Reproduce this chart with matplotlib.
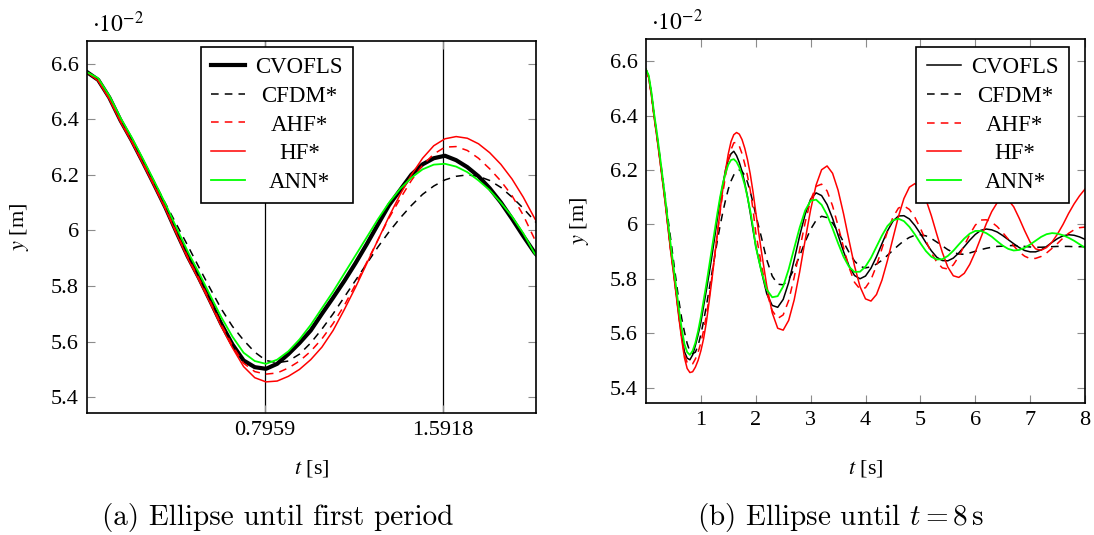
import matplotlib
matplotlib.use('Agg')
import matplotlib.pyplot as plt
import matplotlib.axes
from matplotlib.ticker import FuncFormatter

plt.rcParams['font.family'] = ['Liberation Serif', 'DejaVu Serif']
plt.rcParams['mathtext.fontset'] = 'stix'

# time samples [s]: 0.05 s steps up to 2 s, then 0.1 s steps
t = [0.00, 0.05, 0.10, 0.15, 0.20, 0.25, 0.30, 0.35, 0.40, 0.45,
     0.50, 0.55, 0.60, 0.65, 0.70, 0.75, 0.80, 0.85, 0.90, 0.95,
     1.00, 1.05, 1.10, 1.15, 1.20, 1.25, 1.30, 1.35, 1.40, 1.45,
     1.50, 1.55, 1.60, 1.65, 1.70, 1.75, 1.80, 1.85, 1.90, 1.95,
     2.0, 2.1, 2.2, 2.3, 2.4, 2.5, 2.6, 2.7, 2.8, 2.9,
     3.0, 3.1, 3.2, 3.3, 3.4, 3.5, 3.6, 3.7, 3.8, 3.9,
     4.0, 4.1, 4.2, 4.3, 4.4, 4.5, 4.6, 4.7, 4.8, 4.9,
     5.0, 5.1, 5.2, 5.3, 5.4, 5.5, 5.6, 5.7, 5.8, 5.9,
     6.0, 6.1, 6.2, 6.3, 6.4, 6.5, 6.6, 6.7, 6.8, 6.9,
     7.0, 7.1, 7.2, 7.3, 7.4, 7.5, 7.6, 7.7, 7.8, 7.9, 8.0]

# y [1e-2 m]
cvofls = [6.570, 6.542, 6.478, 6.396, 6.324, 6.246, 6.166, 6.084, 5.994, 5.907,
          5.830, 5.748, 5.664, 5.590, 5.532, 5.508, 5.502, 5.520, 5.555, 5.595,
          5.640, 5.700, 5.758, 5.818, 5.882, 5.950, 6.021, 6.091, 6.146, 6.201,
          6.238, 6.260, 6.269, 6.253, 6.228, 6.195, 6.152, 6.101, 6.042, 5.980,
          5.921, 5.830, 5.745, 5.702, 5.695, 5.724, 5.786, 5.869, 5.958, 6.037,
          6.093, 6.116, 6.106, 6.073, 6.022, 5.961, 5.900, 5.847, 5.812, 5.800,
          5.810, 5.839, 5.881, 5.929, 5.976, 6.012, 6.031, 6.032, 6.020, 5.996,
          5.966, 5.933, 5.903, 5.879, 5.867, 5.866, 5.876, 5.895, 5.918, 5.942,
          5.963, 5.978, 5.983, 5.980, 5.972, 5.959, 5.944, 5.929, 5.915, 5.904,
          5.899, 5.899, 5.906, 5.919, 5.934, 5.948, 5.958, 5.962, 5.960, 5.954, 5.945]

cfdm = [6.570, 6.542, 6.478, 6.398, 6.328, 6.254, 6.176, 6.098, 6.022, 5.946,
        5.868, 5.792, 5.718, 5.655, 5.605, 5.562, 5.532, 5.524, 5.530, 5.555,
        5.595, 5.645, 5.700, 5.760, 5.820, 5.880, 5.940, 5.995, 6.045, 6.090,
        6.130, 6.160, 6.182, 6.195, 6.200, 6.195, 6.180, 6.155, 6.120, 6.080,
        6.035, 5.955, 5.870, 5.810, 5.780, 5.778, 5.798, 5.836, 5.884, 5.936,
        5.982, 6.015, 6.030, 6.025, 6.005, 5.973, 5.935, 5.897, 5.865, 5.845,
        5.840, 5.844, 5.854, 5.868, 5.886, 5.905, 5.923, 5.940, 5.952, 5.960,
        5.962, 5.958, 5.948, 5.935, 5.921, 5.907, 5.897, 5.891, 5.890, 5.895,
        5.901, 5.907, 5.912, 5.916, 5.919, 5.920, 5.922, 5.922, 5.921, 5.919,
        5.917, 5.916, 5.916, 5.917, 5.918, 5.919, 5.919, 5.919, 5.918, 5.918, 5.918]

ahf = [6.570, 6.540, 6.476, 6.394, 6.322, 6.244, 6.164, 6.082, 5.992, 5.905,
       5.828, 5.746, 5.662, 5.586, 5.522, 5.492, 5.483, 5.487, 5.505, 5.530,
       5.565, 5.610, 5.665, 5.730, 5.805, 5.885, 5.965, 6.045, 6.115, 6.180,
       6.235, 6.275, 6.300, 6.302, 6.288, 6.260, 6.222, 6.178, 6.125, 6.055,
       5.970, 5.855, 5.750, 5.683, 5.654, 5.667, 5.720, 5.805, 5.907, 6.007,
       6.089, 6.140, 6.148, 6.123, 6.068, 5.995, 5.915, 5.842, 5.787, 5.762,
       5.767, 5.797, 5.848, 5.911, 5.974, 6.026, 6.060, 6.068, 6.055, 6.026,
       5.986, 5.940, 5.896, 5.861, 5.840, 5.836, 5.851, 5.882, 5.922, 5.963,
       5.997, 6.016, 6.017, 6.008, 5.992, 5.970, 5.946, 5.921, 5.899, 5.883,
       5.874, 5.875, 5.882, 5.895, 5.912, 5.930, 5.950, 5.967, 5.980, 5.988, 5.990]

hf = [6.570, 6.538, 6.472, 6.390, 6.318, 6.240, 6.160, 6.078, 5.988, 5.900,
      5.822, 5.740, 5.655, 5.578, 5.510, 5.470, 5.455, 5.458, 5.475, 5.500,
      5.535, 5.580, 5.640, 5.715, 5.795, 5.880, 5.965, 6.050, 6.130, 6.200,
      6.260, 6.305, 6.330, 6.338, 6.332, 6.312, 6.280, 6.238, 6.185, 6.120,
      6.045, 5.905, 5.775, 5.675, 5.618, 5.611, 5.647, 5.722, 5.825, 5.942,
      6.054, 6.145, 6.201, 6.215, 6.188, 6.126, 6.039, 5.941, 5.847, 5.771,
      5.726, 5.718, 5.742, 5.795, 5.867, 5.949, 6.029, 6.095, 6.137, 6.150,
      6.133, 6.092, 6.032, 5.963, 5.897, 5.843, 5.811, 5.805, 5.820, 5.853,
      5.898, 5.950, 6.002, 6.047, 6.080, 6.095, 6.090, 6.065, 6.023, 5.977,
      5.935, 5.910, 5.905, 5.915, 5.935, 5.965, 6.000, 6.040, 6.075, 6.105, 6.130]

ann = [6.570, 6.548, 6.485, 6.405, 6.335, 6.258, 6.178, 6.097, 6.010, 5.925,
       5.848, 5.768, 5.688, 5.618, 5.560, 5.530, 5.520, 5.535, 5.565, 5.608,
       5.660, 5.720, 5.780, 5.845, 5.910, 5.975, 6.040, 6.100, 6.150, 6.190,
       6.220, 6.237, 6.240, 6.230, 6.210, 6.180, 6.145, 6.100, 6.050, 5.990,
       5.918, 5.830, 5.760, 5.732, 5.736, 5.772, 5.835, 5.912, 5.988, 6.051,
       6.087, 6.091, 6.072, 6.035, 5.985, 5.931, 5.881, 5.844, 5.825, 5.826,
       5.845, 5.877, 5.918, 5.959, 5.994, 6.015, 6.021, 6.012, 5.991, 5.963,
       5.931, 5.902, 5.881, 5.871, 5.872, 5.884, 5.903, 5.926, 5.948, 5.966,
       5.976, 5.976, 5.968, 5.955, 5.938, 5.922, 5.910, 5.904, 5.906, 5.914,
       5.926, 5.940, 5.954, 5.964, 5.968, 5.966, 5.960, 5.951, 5.940, 5.927, 5.914]

labels = ['CVOFLS', 'CFDM*', 'AHF*', 'HF*', 'ANN*']
y_ticks = [5.4, 5.6, 5.8, 6.0, 6.2, 6.4, 6.6]
period_ticks = [0.7959, 1.5918]
period_tick_labels = ['0.7959', '1.5918']
right_x_ticks = [1, 2, 3, 4, 5, 6, 7, 8]

DASH = (0, (5, 4))
FS = 16

fig = plt.figure(figsize=(10.94, 5.35), dpi=100)


def style_axis(axis: matplotlib.axes.Axes):
    axis.set_ylim(5.343, 6.682)
    axis.set_yticks(y_ticks)
    axis.yaxis.set_major_formatter(FuncFormatter(lambda v, p: f'{v:g}'))
    axis.tick_params(direction='in', length=6, width=0.8, color='0.55',
                     top=True, right=True, labelsize=FS, pad=6)
    for sp in axis.spines.values():
        sp.set_linewidth(1.2)
    axis.set_xlabel(r'$t$ [s]', fontsize=FS)
    axis.set_ylabel(r'$y$ [m]', fontsize=FS)
    axis.text(0.012, 1.01, r'$\cdot 10^{-2}$', transform=axis.transAxes,
              fontsize=17, ha='left', va='bottom')


def draw_series(axis, thick):
    axis.plot(t, cvofls, color='black', lw=3.0 if thick else 1.1, label=labels[0])
    axis.plot(t, cfdm, color='black', lw=1.1, ls=DASH, label=labels[1])
    axis.plot(t, ahf, color='#ff0000', lw=1.1, ls=DASH, label=labels[2])
    axis.plot(t, hf, color='#ff0000', lw=1.1, label=labels[3])
    axis.plot(t, ann, color='#00ff00', lw=1.3, label=labels[4])


def make_legend(axis, loc, anchor):
    leg = axis.legend(loc=loc, bbox_to_anchor=anchor, fontsize=16.5,
                      fancybox=False, framealpha=1, edgecolor='black',
                      handlelength=1.5, handletextpad=0.45, labelspacing=0.33,
                      borderpad=0.45, borderaxespad=0)
    leg.get_frame().set_linewidth(1.2)
    return leg


def center_legend_text(leg):
    # pgfplots centres the legend text in its cell
    fig.canvas.draw()
    texts = leg.get_texts()
    widths = [tx.get_window_extent().width for tx in texts]
    w = max(widths)
    for tx, wi in zip(texts, widths):
        tx.set_position(((w - wi) / 2, 0))


# (a) first period
ax1 = fig.add_axes([87 / 1094, 1 - 413 / 535, 449 / 1094, 372 / 535])
draw_series(ax1, thick=True)
ax1.set_xlim(0, 2.007)
ax1.set_xticks(period_ticks)
ax1.set_xticklabels(period_tick_labels)
ax1.grid(axis='x', color='black', lw=0.9)
ax1.set_axisbelow(True)
style_axis(ax1)
ax1.xaxis.set_label_coords(0.5, -0.12)
ax1.yaxis.set_label_coords(-0.125, 0.5)
leg1 = make_legend(ax1, 'upper center', (0.423, 0.984))

# (b) until t = 8 s
ax2 = fig.add_axes([646 / 1094, 1 - 403 / 535, 439 / 1094, 364 / 535])
draw_series(ax2, thick=False)
ax2.set_xlim(0, 8)
ax2.set_xticks(right_x_ticks)
style_axis(ax2)
ax2.xaxis.set_label_coords(0.5, -0.15)
ax2.yaxis.set_label_coords(-0.125, 0.5)
leg2 = make_legend(ax2, 'upper right', (0.9636, 0.978))

fig.text(278 / 1094, 1 - 517 / 535, '(a) Ellipse until first period',
         family='cmr10', fontsize=21, ha='center', va='center')
fig.text(841 / 1094, 1 - 517 / 535, r'(b) Ellipse until $t = 8\,$s',
         family='cmr10', math_fontfamily='cm', fontsize=21,
         ha='center', va='center')

center_legend_text(leg1)
center_legend_text(leg2)

fig.savefig('out.png', dpi=100)
